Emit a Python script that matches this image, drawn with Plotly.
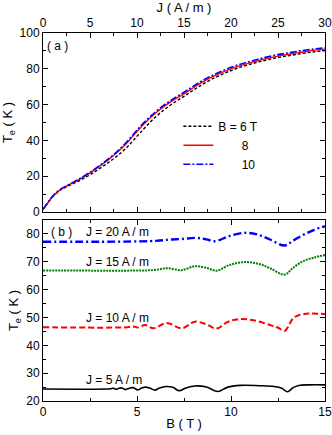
import plotly.graph_objects as go

# ---------------- panel (a): Te vs J ----------------
J = [0, 0.5, 1, 1.5, 2, 3, 4, 5, 6, 7, 8, 9, 10, 11, 12, 13, 14, 15, 16, 17, 18, 19, 20,
     21, 22, 23, 24, 25, 26, 27, 28, 29, 30]
Te_B6 = [1.5, 5.0, 8.4, 10.8, 12.7, 15.3, 17.9, 20.8, 24.2, 27.8, 31.8, 36.5, 42.3, 48.0, 53.2,
         57.6, 61.3, 64.6, 68.1, 71.4, 74.3, 76.8, 79.0, 80.9, 82.5, 83.9, 85.2, 86.3, 87.2,
         88.1, 88.9, 89.6, 90.2]
Te_B8 = [1.5, 5.0, 8.5, 11.0, 13.0, 15.8, 18.6, 21.9, 25.5, 29.4, 33.8, 39.0, 45.0, 50.5, 55.3,
         59.4, 62.9, 66.0, 69.5, 72.7, 75.5, 77.9, 80.0, 81.8, 83.3, 84.7, 86.0, 87.1, 88.0,
         88.9, 89.7, 90.4, 91.0]
Te_B10 = [1.5, 5.2, 8.7, 11.2, 13.2, 16.0, 18.9, 22.2, 25.8, 29.8, 34.3, 39.7, 45.7, 51.3, 56.1,
          60.2, 63.7, 66.9, 70.3, 73.5, 76.3, 78.7, 80.8, 82.6, 84.1, 85.5, 86.8, 87.9, 88.8,
          89.7, 90.5, 91.2, 91.8]
legend_names = ["B = 6 T", "\u00a0" * 7 + "8", "\u00a0" * 7 + "10"]

# ---------------- panel (b): Te vs B ----------------
B_J5 = [0, 3.4, 3.6, 3.75, 3.86, 4.05, 4.2, 4.37, 4.6, 4.8, 5.04, 5.25, 5.45, 5.7, 5.95, 6.2,
        6.55, 6.9, 7.25, 7.6, 8.1, 8.7, 9.3, 9.8, 10.5, 11.5, 12.3, 12.7, 13.0, 13.3, 13.6, 14.2, 15]
Te_J5 = [24.3, 24.3, 24.4, 24.6, 24.2, 24.6, 24.7, 24.1, 24.6, 24.8, 24.0, 24.7, 25.0, 24.6, 23.9,
         24.7, 25.2, 24.9, 23.7, 24.7, 25.4, 25.0, 23.4, 24.9, 25.6, 25.5, 25.2, 24.6, 23.3, 24.8,
         25.6, 25.8, 25.8]
B_J10 = [0, 4.5, 4.8, 5.05, 5.43, 5.87, 6.58, 7.38, 8.08, 8.7, 9.24, 9.8, 10.38, 11.2, 12.07,
         12.5, 12.86, 13.1, 13.3, 13.6, 14.2, 15]
Te_J10 = [46.5, 46.5, 46.8, 46.4, 47.3, 46.1, 48.0, 46.1, 48.5, 47.5, 46.0, 48.3, 49.4, 49.0, 47.3,
          46.3, 45.2, 47.5, 49.7, 50.8, 51.4, 51.2]
B_J15 = [0, 5.5, 6.0, 6.6, 7.38, 8.08, 8.7, 9.24, 9.9, 10.74, 11.5, 12.07, 12.86, 13.3, 13.83,
         14.4, 15]
Te_J15 = [66.9, 66.9, 67.1, 67.7, 67.0, 68.4, 67.8, 66.8, 68.8, 69.9, 69.2, 67.7, 65.4, 67.8,
          70.2, 71.5, 72.4]
B_J20 = [0, 6.0, 6.76, 7.4, 8.08, 8.6, 9.15, 9.9, 10.74, 11.4, 12.07, 12.86, 13.3, 13.83, 14.4, 15]
Te_J20 = [77.2, 77.5, 78.0, 78.2, 78.6, 78.2, 77.4, 79.2, 80.4, 79.8, 78.0, 75.85, 77.6, 79.6,
          81.4, 82.8]

FONT = "Liberation Sans, Arial, sans-serif"

fig = go.Figure()

top_styles = [("black", "3px,2px", 1.4), ("red", "solid", 1.4), ("blue", "7px,2px,2px,2px", 1.6)]
for name, ys, (col, dash, w) in zip(legend_names, [Te_B6, Te_B8, Te_B10], top_styles):
    fig.add_trace(go.Scatter(x=J, y=ys, mode="lines", name=name, line_shape="spline",
                             line=dict(color=col, dash=dash, width=w), xaxis="x", yaxis="y"))

bot = [(B_J5, Te_J5, "black", "solid", 1.6),
       (B_J10, Te_J10, "red", "6px,3px", 2.0),
       (B_J15, Te_J15, "green", "2px,1px", 2.0),
       (B_J20, Te_J20, "blue", "8px,3px,2px,3px", 2.4)]
for bx, by, col, dash, w in bot:
    fig.add_trace(go.Scatter(x=bx, y=by, mode="lines", showlegend=False, line_shape="spline",
                             line=dict(color=col, dash=dash, width=w), xaxis="x2", yaxis="y2"))

axis_common = dict(showline=True, linecolor="black", linewidth=1, mirror="allticks",
                   ticks="inside", ticklen=5, tickwidth=1, tickcolor="black",
                   showgrid=False, zeroline=False, automargin=False,
                   tickfont=dict(family=FONT, size=12, color="black"))

fig.update_layout(
    width=332, height=435,
    margin=dict(l=43, r=7, t=33, b=34),
    paper_bgcolor="white", plot_bgcolor="white",
    font=dict(family=FONT, size=12, color="black"),
    xaxis=dict(domain=[0, 1], anchor="y", side="top", range=[0, 30], tick0=0, dtick=5,
               minor=dict(dtick=2.5, ticklen=3, ticks="inside", tickcolor="black"),
               title=dict(text="J ( A / m )", font=dict(family=FONT, size=13), standoff=0),
               **axis_common),
    yaxis=dict(domain=[0.5136, 1], anchor="x", range=[0, 100], tick0=0, dtick=20,
               minor=dict(dtick=10, ticklen=3, ticks="inside", tickcolor="black"),
               title=dict(text="T<sub>e</sub> ( K )", font=dict(family=FONT, size=13), standoff=4),
               **axis_common),
    xaxis2=dict(domain=[0, 1], anchor="y2", range=[0, 15], tick0=0, dtick=5,
                minor=dict(dtick=2.5, ticklen=3, ticks="inside", tickcolor="black"),
                title=dict(text="B ( T )", font=dict(family=FONT, size=13), standoff=0),
                **axis_common),
    yaxis2=dict(domain=[0, 0.4918], anchor="x2", range=[20, 85], tick0=20, dtick=10,
                minor=dict(dtick=5, ticklen=3, ticks="inside", tickcolor="black"),
                title=dict(text="T<sub>e</sub> ( K )", font=dict(family=FONT, size=13), standoff=4),
                **axis_common),
    legend=dict(x=0.48, y=0.786, xanchor="left", yanchor="top", bgcolor="rgba(0,0,0,0)",
                font=dict(family=FONT, size=12), itemwidth=30, tracegroupgap=0),
    showlegend=True,
)

ann = [("( a )", 1.57, 93, "x", "y"),
       ("( b )", 0.97, 80.6, "x2", "y2"),
       ("J = 20 A / m", 3.94, 80.6, "x2", "y2"),
       ("J = 15 A / m", 3.94, 70.0, "x2", "y2"),
       ("J = 10 A / m", 3.94, 49.9, "x2", "y2"),
       ("J = 5 A / m", 3.79, 27.6, "x2", "y2")]
for t, x, y, xr, yr in ann:
    fig.add_annotation(text=t, x=x, y=y, xref=xr, yref=yr, showarrow=False,
                       font=dict(family=FONT, size=12, color="black"))

fig.write_html("out.html", config={"displayModeBar": False},
               post_script="document.body.style.margin='0';document.body.style.padding='0';")
